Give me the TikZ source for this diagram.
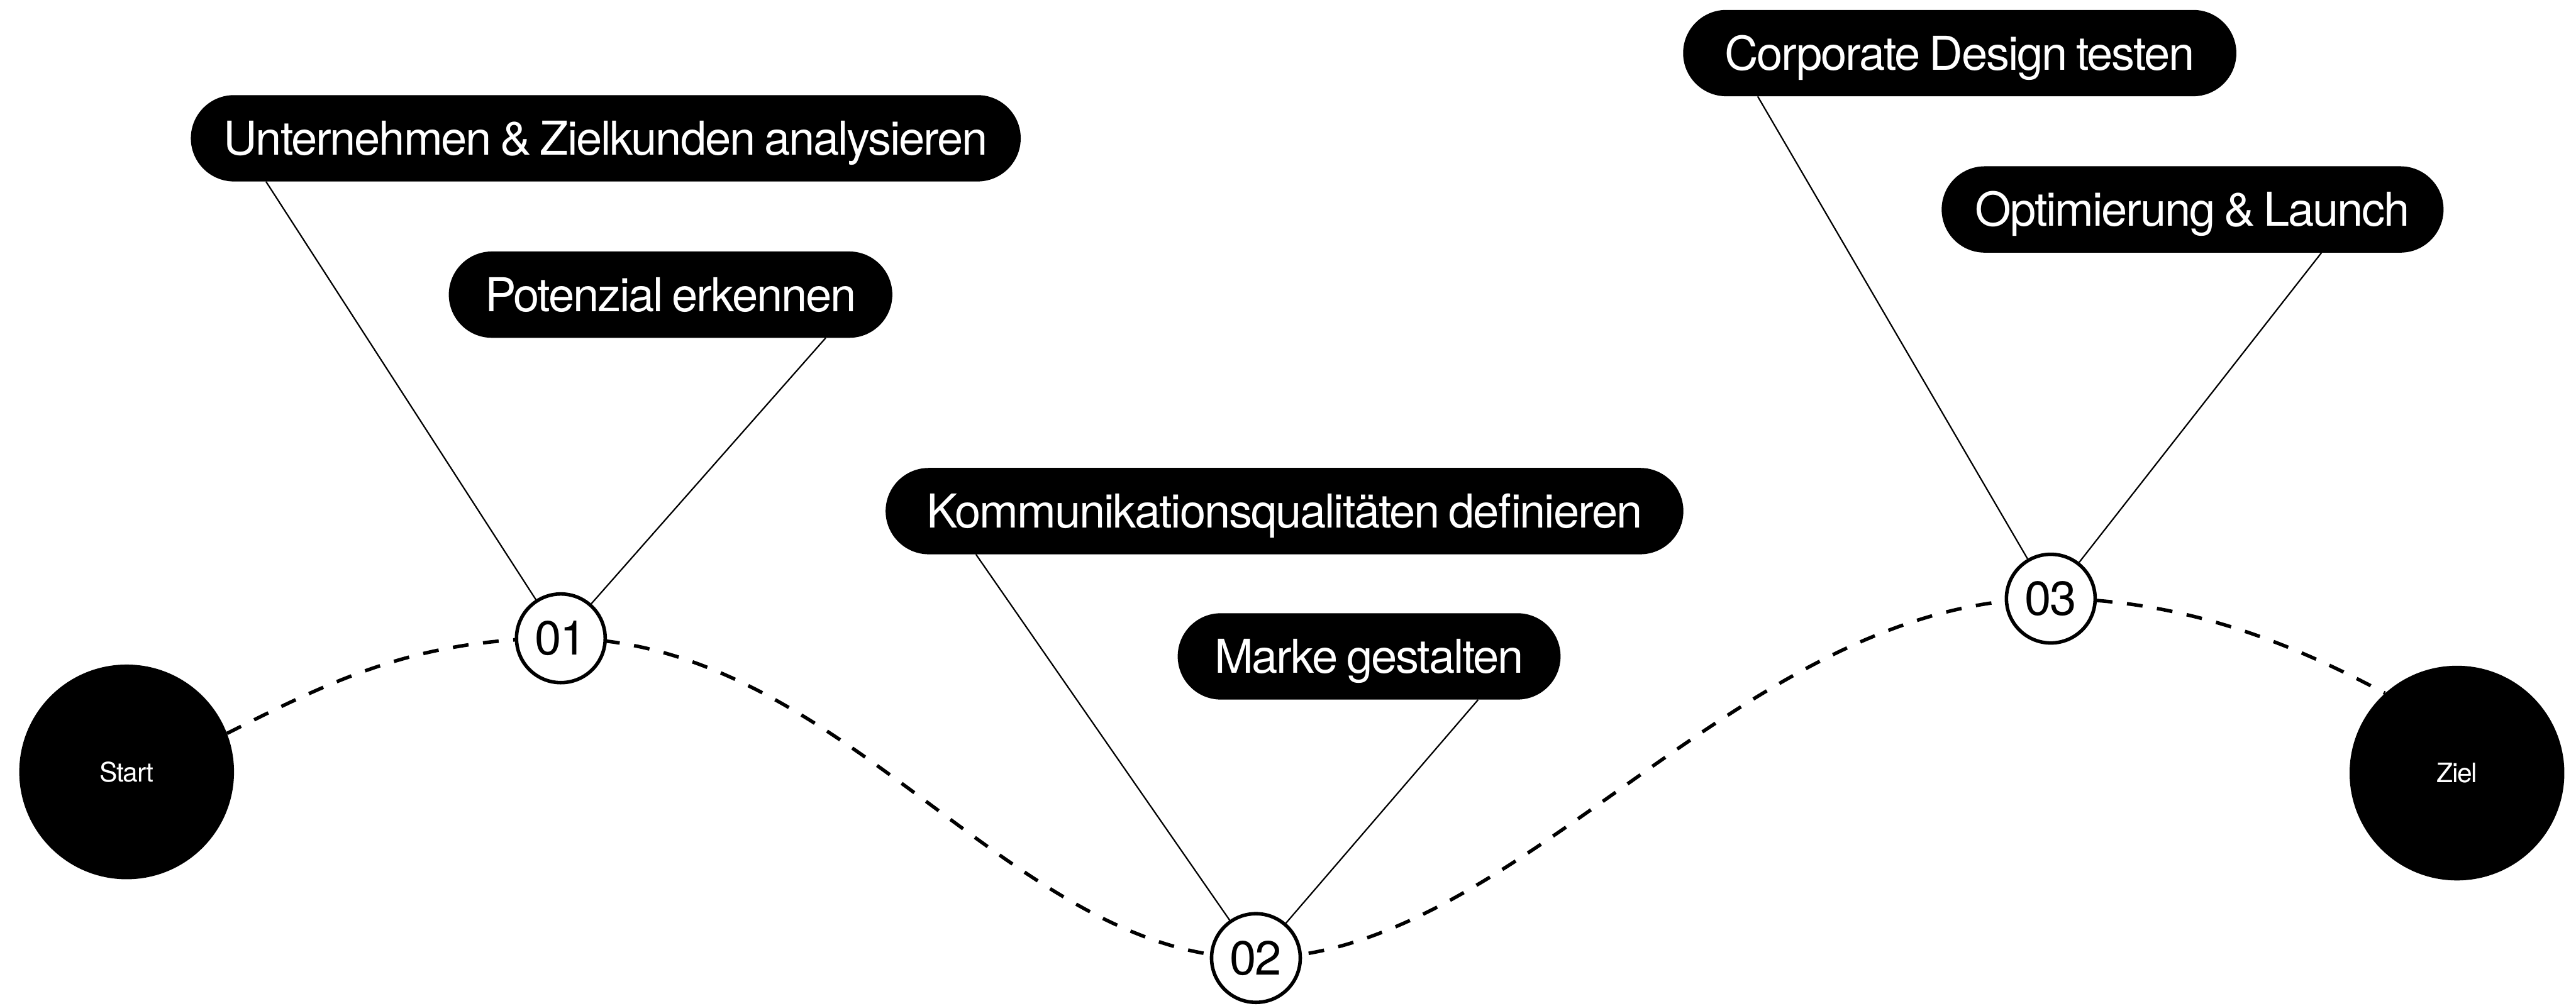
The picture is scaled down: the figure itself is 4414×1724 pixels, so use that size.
\documentclass[tikz,border=0pt]{standalone}
\usepackage{fontspec}
\setmainfont{TeX Gyre Heros}
\newfontfamily\labfont{TeX Gyre Heros}[LetterSpace=-3,WordSpace=0.75]
\usetikzlibrary{backgrounds,calc}
\begin{document}
\begin{tikzpicture}[x=1pt,y=-1pt,
  pill/.style={fill=black, text=white, rounded corners=74pt, minimum height=148pt,
    inner sep=0pt, text height=57.4pt, text depth=0pt,
    font=\labfont\fontsize{80}{96}\selectfont},
  stepnum/.style={circle, draw=black, line width=6pt, fill=white, minimum size=152pt,
    inner sep=0pt, font=\labfont\fontsize{82}{96}\selectfont},
  endpoint/.style={circle, fill=black, minimum size=368pt, inner sep=0pt, text=white,
    font=\labfont\fontsize{46}{56}\selectfont},
  link/.style={line width=2.4pt},
  route/.style={line width=6pt, dash pattern=on 27pt off 25pt}
]
\useasboundingbox (0,0) rectangle (4414,1724);

% start / goal
\node[endpoint] (st) at (217,1323) {Start};
\node[endpoint] (zl) at (4210,1325) {Ziel};

% milestones
\node[stepnum] (c1) at (961,1094) {01};
\node[stepnum] (c2) at (2152,1642) {02};
\node[stepnum] (c3) at (3514,1026) {03};

% labels
\node[pill, minimum width=1422pt] (p1) at (1038,237) {Unternehmen \& Zielkunden analysieren};
\node[pill, minimum width=760pt] (p2) at (1149,505) {Potenzial erkennen};
\node[pill, minimum width=1367pt] (p3) at (2201,876) {Kommunikationsqualitäten definieren};
\node[pill, minimum width=656pt] (p4) at (2346,1125) {Marke gestalten};
\node[pill, minimum width=948pt] (p5) at (3358,91) {Corporate Design testen};
\node[pill, minimum width=860pt] (p6) at (3757,359) {Optimierung \& Launch};

% connectors
\draw[link] ($(p1.south west)+(129,0)$) -- (c1);
\draw[link] ($(p2.south west)+(646,0)$) -- (c1);
\draw[link] ($(p3.south west)+(155,0)$) -- (c2);
\draw[link] ($(p4.south west)+(515,0)$) -- (c2);
\draw[link] ($(p5.south west)+(128,0)$) -- (c3);
\draw[link] ($(p6.south west)+(651,0)$) -- (c3);

% dashed route
\begin{scope}[on background layer]
\draw[route] (st.21) .. controls (568,1167) and (713,1094) .. (c1.center)
  .. controls (1443,1094) and (1731,1642) .. (c2.center)
  .. controls (2601,1642) and (2983,1026) .. (c3.center)
  .. controls (3763,1026) and (3960,1121) .. (zl.132);
\end{scope}
\end{tikzpicture}
\end{document}
